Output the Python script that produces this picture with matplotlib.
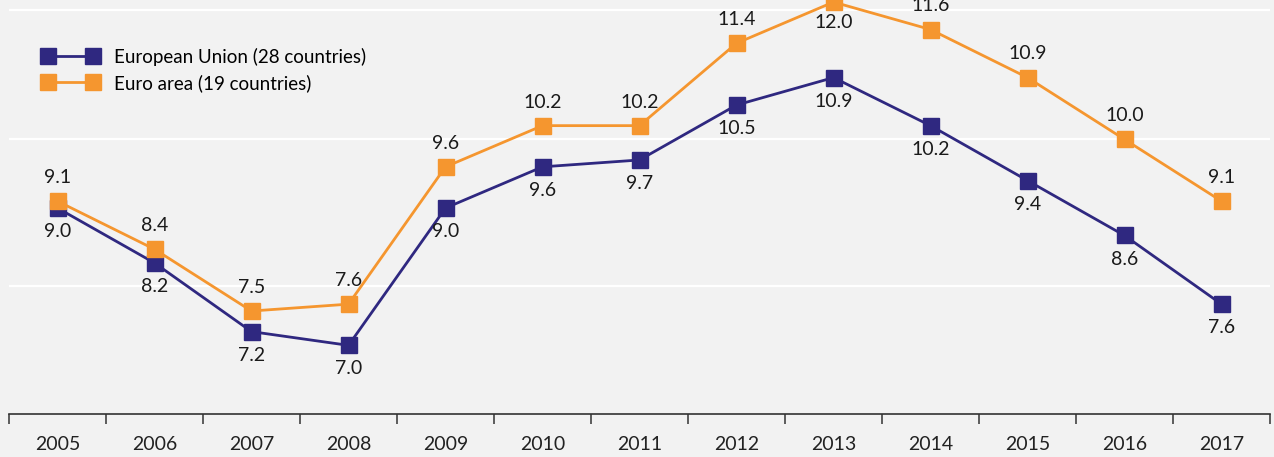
import numpy as np
import matplotlib
matplotlib.use("Agg")
import matplotlib.pyplot as plt

years = ["2005", "2006", "2007", "2008", "2009", "2010", "2011",
         "2012", "2013", "2014", "2015", "2016", "2017"]
eu28 = [9.0, 8.2, 7.2, 7.0, 9.0, 9.6, 9.7, 10.5, 10.9, 10.2, 9.4, 8.6, 7.6]
ea19 = [9.1, 8.4, 7.5, 7.6, 9.6, 10.2, 10.2, 11.4, 12.0, 11.6, 10.9, 10.0, 9.1]
grid_levels = [7.86, 10.0, 11.88]

BG = "#f2f2f2"
C_EU = "#2f2880"
C_EA = "#f5962f"
plt.rcParams["font.family"] = ["Lato", "DejaVu Sans"]

fig = plt.figure(figsize=(12.74, 4.57), dpi=100, facecolor=BG)
ax = fig.add_axes([9 / 1274, 43 / 457, 1261 / 1274, 414 / 457], facecolor=BG)
x = np.arange(len(years))

for g in grid_levels:
    ax.axhline(g, color="white", lw=1.6, zorder=1)

ax.plot(x, eu28, color=C_EU, lw=2, marker="s", ms=11, zorder=3,
        label="European Union (28 countries)", clip_on=False)
ax.plot(x, ea19, color=C_EA, lw=2, marker="s", ms=11, zorder=3,
        label="Euro area (19 countries)", clip_on=False)

for i, v in enumerate(eu28):
    ax.annotate(f"{v:.1f}", (i, v), xytext=(0, -17), textcoords="offset points",
                ha="center", va="center", fontsize=14, color="#1a1a1a")
for i, v in enumerate(ea19):
    dy = -15 if years[i] == "2013" else 17
    ax.annotate(f"{v:.1f}", (i, v), xytext=(0, dy), textcoords="offset points",
                ha="center", va="center", fontsize=14, color="#1a1a1a")

ax.set_xlim(-0.5, len(years) - 0.5)
ax.set_ylim(6.0, 12.03)
ax.set_yticks([])
for s in ["left", "right", "top"]:
    ax.spines[s].set_visible(False)
ax.spines["bottom"].set_color("#333333")
ax.spines["bottom"].set_linewidth(1.2)

ax.set_xticks(np.arange(len(years) + 1) - 0.5)
ax.set_xticklabels([])
ax.tick_params(axis="x", which="major", direction="out", length=7.5,
               width=1.1, color="#333333")
ax.set_xticks(x, minor=True)
ax.set_xticklabels(years, minor=True)
ax.tick_params(axis="x", which="minor", length=0, pad=16,
               labelsize=14, labelcolor="#222222")

leg = ax.legend(loc="upper left", bbox_to_anchor=(35 / 1274, 1 - 40 / 457),
                bbox_transform=fig.transFigure, frameon=False, fontsize=13.5,
                handlelength=3.0, handletextpad=0.8, labelspacing=0.45,
                borderaxespad=0, numpoints=2)

fig.savefig("out.png", dpi=100, facecolor=BG)
